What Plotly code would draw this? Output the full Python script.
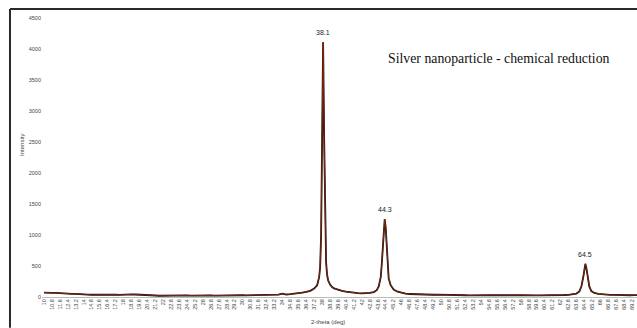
import plotly.graph_objects as go

two_theta = [10.0, 10.4, 10.8, 11.2, 11.6, 12.0, 12.4, 12.8, 13.2, 13.6, 14.0, 14.4, 14.8, 15.2, 15.6, 16.0,
             16.4, 16.8, 17.2, 17.6, 18.0, 18.4, 18.8, 19.2, 19.6, 20.0, 20.4, 20.8, 21.2, 21.6, 22.0, 22.4,
             22.8, 23.2, 23.6, 24.0, 24.4, 24.8, 25.2, 25.6, 26.0, 26.4, 26.8, 27.2, 27.6, 28.0, 28.4, 28.8,
             29.2, 29.6, 30.0, 30.4, 30.8, 31.2, 31.6, 32.0, 32.4, 32.8, 33.2, 33.6, 34.0, 34.2, 34.4, 34.8,
             35.2, 35.6, 36.0, 36.4, 36.8, 37.2, 37.5, 37.7, 37.8, 37.9, 38.0, 38.1, 38.2, 38.3, 38.4, 38.5,
             38.6, 38.8, 39.0, 39.2, 39.6, 40.0, 40.4, 40.8, 41.2, 41.6, 42.0, 42.4, 42.8, 43.2, 43.5, 43.7,
             43.9, 44.0, 44.1, 44.2, 44.3, 44.4, 44.5, 44.6, 44.7, 44.9, 45.2, 45.6, 46.0, 46.4, 46.8, 47.2,
             47.6, 48.0, 48.4, 48.8, 49.2, 49.6, 50.0, 50.4, 50.8, 51.2, 51.6, 52.0, 52.4, 52.8, 53.2, 53.6,
             54.0, 54.4, 54.8, 55.2, 55.6, 56.0, 56.4, 56.8, 57.2, 57.6, 58.0, 58.4, 58.8, 59.2, 59.6, 60.0,
             60.4, 60.8, 61.2, 61.6, 62.0, 62.4, 62.8, 63.2, 63.6, 63.9, 64.1, 64.3, 64.4, 64.5, 64.6, 64.7,
             64.9, 65.1, 65.4, 65.8, 66.2, 66.6, 67.0, 67.4, 67.8, 68.2, 68.6, 69.0, 69.4, 69.7]

intensity = [72, 75, 68, 66, 60, 58, 55, 50, 52, 44, 40, 38, 36, 38, 35, 37,
             34, 36, 38, 35, 40, 38, 42, 40, 38, 41, 36, 28, 24, 20, 22, 24,
             28, 25, 27, 24, 26, 22, 24, 20, 22, 25, 26, 22, 24, 28, 25, 27,
             26, 30, 28, 26, 28, 26, 28, 30, 28, 32, 34, 38, 55, 48, 40, 45,
             50, 58, 70, 82, 100, 135, 190, 320, 480, 1000, 2500, 4110, 2600, 1100, 560, 360,
             270, 200, 160, 140, 115, 100, 85, 75, 70, 62, 60, 58, 65, 80, 110, 170,
             320, 520, 820, 1120, 1255, 1120, 800, 480, 300, 190, 120, 85, 65, 55, 48, 45,
             40, 38, 35, 34, 36, 38, 35, 33, 30, 28, 27, 30, 28, 26, 28, 30,
             26, 28, 27, 30, 28, 26, 29, 27, 25, 28, 30, 27, 26, 28, 25, 27,
             26, 28, 26, 28, 30, 32, 35, 40, 55, 90, 170, 330, 460, 535, 470, 340,
             170, 95, 65, 50, 42, 38, 35, 33, 30, 32, 30, 28, 30, 29]

intensity_red = list(intensity)

peak_positions = [38.1, 44.3, 64.5]
peak_heights = [4110, 1255, 535]
peak_labels = ["38.1", "44.3", "64.5"]

tick_values = [10.0, 10.8, 11.6, 12.4, 13.2, 14.0, 14.8, 15.6, 16.4, 17.2, 18.0, 18.8, 19.6, 20.4, 21.2,
               22.0, 22.8, 23.6, 24.4, 25.2, 26.0, 26.8, 27.6, 28.4, 29.2, 30.0, 30.8, 31.6, 32.4, 33.2,
               34.0, 34.8, 35.6, 36.4, 37.2, 38.0, 38.8, 39.6, 40.4, 41.2, 42.0, 42.8, 43.6, 44.4, 45.2,
               46.0, 46.8, 47.6, 48.4, 49.2, 50.0, 50.8, 51.6, 52.4, 53.2, 54.0, 54.8, 55.6, 56.4, 57.2,
               58.0, 58.8, 59.6, 60.4, 61.2, 62.0, 62.8, 63.6, 64.4, 65.2, 66.0, 66.8, 67.6, 68.4, 69.2]
tick_labels = ["10", "10.8", "11.6", "12.4", "13.2", "14", "14.8", "15.6", "16.4", "17.2", "18", "18.8",
               "19.6", "20.4", "21.2", "22", "22.8", "23.6", "24.4", "25.2", "26", "26.8", "27.6", "28.4",
               "29.2", "30", "30.8", "31.6", "32.4", "33.2", "34", "34.8", "35.6", "36.4", "37.2", "38",
               "38.8", "39.6", "40.4", "41.2", "42", "42.8", "43.6", "44.4", "45.2", "46", "46.8", "47.6",
               "48.4", "49.2", "50", "50.8", "51.6", "52.4", "53.2", "54", "54.8", "55.6", "56.4", "57.2",
               "58", "58.8", "59.6", "60.4", "61.2", "62", "62.8", "63.6", "64.4", "65.2", "66", "66.8",
               "67.6", "68.4", "69.2"]
y_ticks = [0, 500, 1000, 1500, 2000, 2500, 3000, 3500, 4000, 4500]

fig = go.Figure()
fig.add_trace(go.Scatter(x=two_theta, y=intensity, mode="lines",
                         line=dict(color="#111111", width=1.8), showlegend=False))
fig.add_trace(go.Scatter(x=two_theta, y=intensity_red, mode="lines",
                         line=dict(color="#9a2a08", width=0.8), showlegend=False))

for px, ph, pl in zip(peak_positions, peak_heights, peak_labels):
    fig.add_annotation(x=px, y=ph, text=pl, showarrow=False, yanchor="bottom", yshift=4,
                       font=dict(family="Liberation Sans", size=7, color="#222222"))

fig.add_annotation(x=0.578, y=0.855, xref="paper", yref="paper", xanchor="left", yanchor="middle",
                   text="Silver nanoparticle - chemical reduction", showarrow=False,
                   font=dict(family="Liberation Serif", size=13.8, color="#111111"))
fig.add_annotation(x=-0.042, y=0.545, xref="paper", yref="paper", text="Intensity", textangle=-90,
                   showarrow=False, font=dict(family="Liberation Sans", size=6, color="#444444"))
fig.add_annotation(x=0.48, y=-0.088, xref="paper", yref="paper", text="2-theta (deg)",
                   showarrow=False, yanchor="middle",
                   font=dict(family="Liberation Sans", size=6, color="#444444"))

# outer chart border (top and left edges visible)
fig.add_shape(type="line", xref="paper", yref="paper", x0=-0.0538, x1=1.0, y0=1.032, y1=1.032,
              line=dict(color="#2a2a2a", width=2))
fig.add_shape(type="line", xref="paper", yref="paper", x0=-0.0538, x1=-0.0538, y0=-0.11, y1=1.032,
              line=dict(color="#2a2a2a", width=2))

fig.update_layout(
    width=637, height=328,
    margin=dict(l=42, r=0, t=18, b=31),
    paper_bgcolor="white", plot_bgcolor="white",
    xaxis=dict(range=[9.8, 69.7], tickvals=tick_values, ticktext=tick_labels, tickangle=-90,
               tickfont=dict(family="Liberation Sans", size=5.5, color="#444444"),
               showgrid=False, zeroline=False, showline=False, ticks=""),
    yaxis=dict(range=[0, 4500], tickvals=y_ticks, showgrid=False, zeroline=True,
               zerolinecolor="#bbbbbb", zerolinewidth=1, showline=False, ticks="",
               tickfont=dict(family="Liberation Sans", size=5.5, color="#444444")),
)

fig.write_html("out.html", config={"displayModeBar": False},
               post_script="document.body.style.margin='0';document.body.style.overflow='hidden';")
